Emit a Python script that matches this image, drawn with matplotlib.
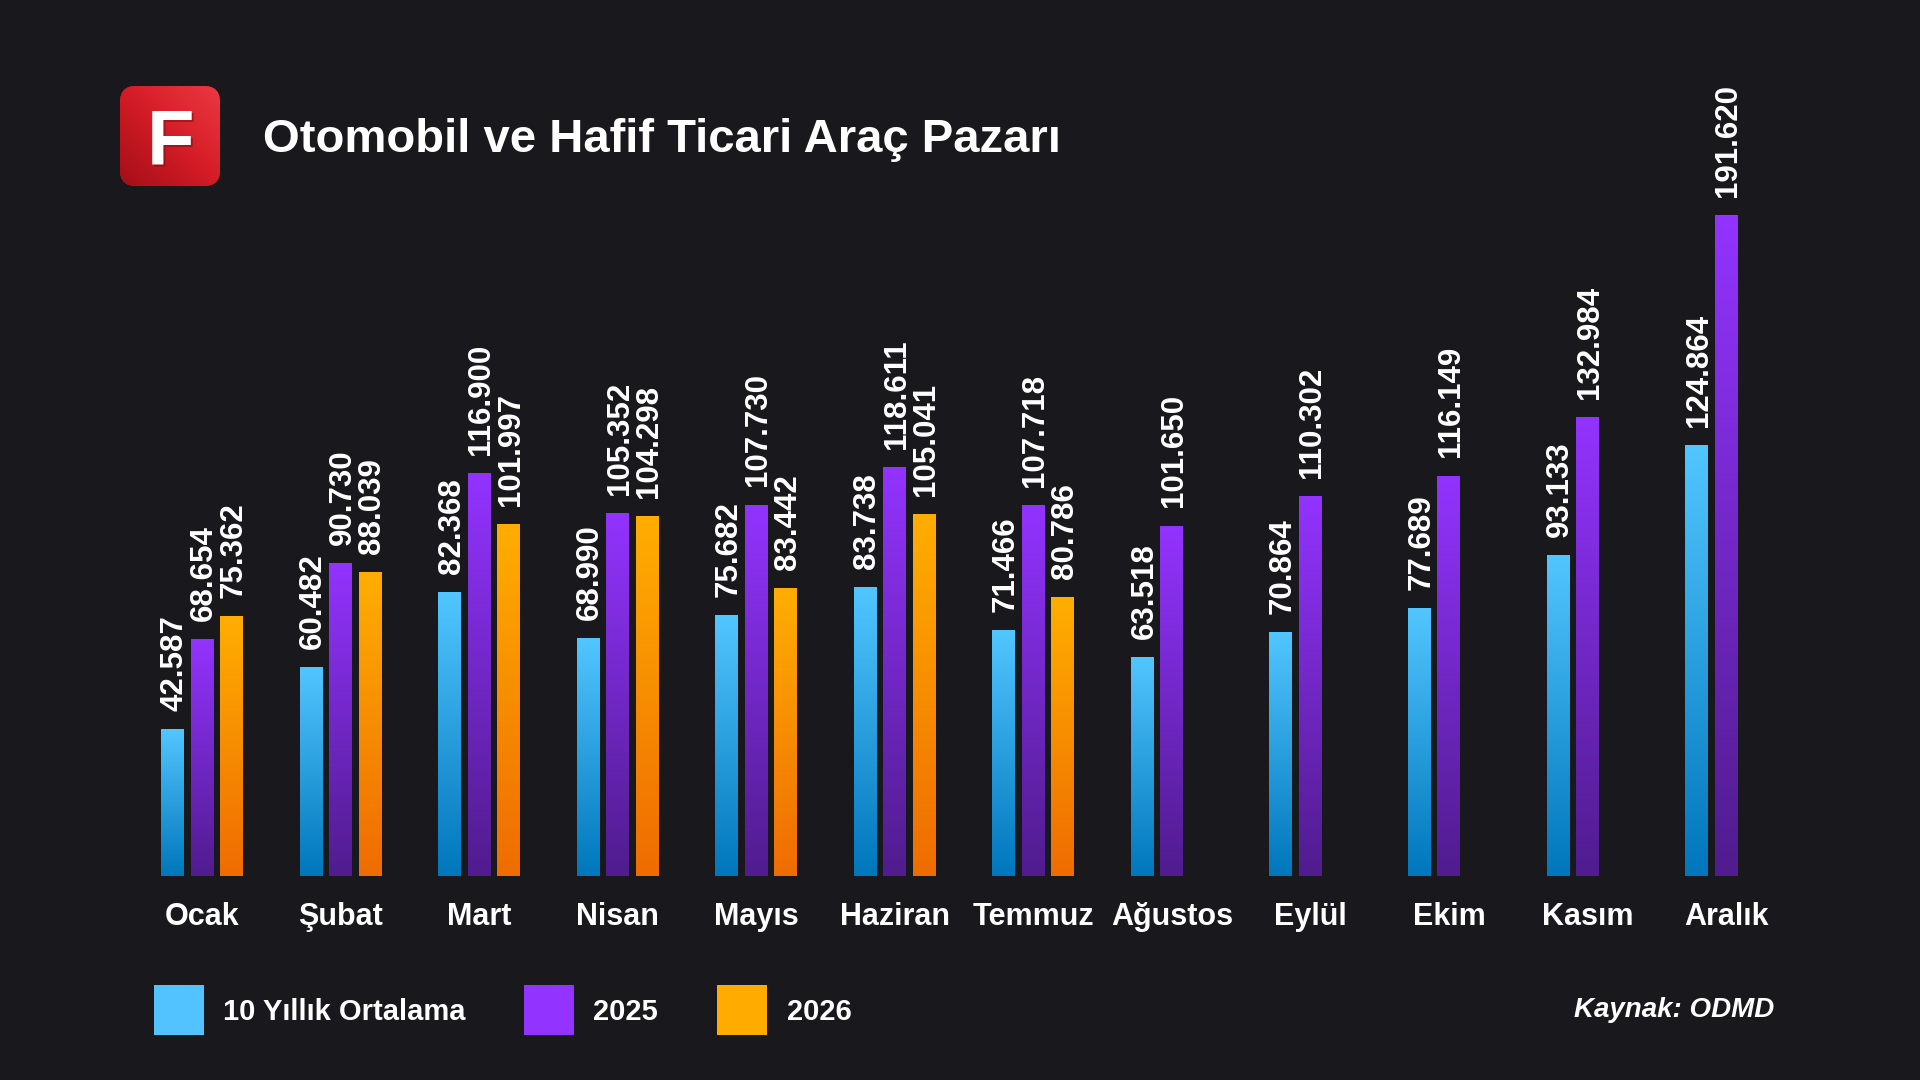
import numpy as np
import matplotlib
matplotlib.use('Agg')
import matplotlib.pyplot as plt
from matplotlib import font_manager
from matplotlib.patches import FancyBboxPatch, Rectangle
from matplotlib.colors import LinearSegmentedColormap

# ---------------- data ----------------
months = ['Ocak', 'Şubat', 'Mart', 'Nisan', 'Mayıs', 'Haziran', 'Temmuz',
          'Ağustos', 'Eylül', 'Ekim', 'Kasım', 'Aralık']
avg10 = [42587, 60482, 82368, 68990, 75682, 83738, 71466, 63518, 70864, 77689, 93133, 124864]
y2025 = [68654, 90730, 116900, 105352, 107730, 118611, 107718, 101650, 110302, 116149, 132984, 191620]
y2026 = [75362, 88039, 101997, 104298, 83442, 105041, 80786, None, None, None, None, None]
series_names = ['10 Yıllık Ortalama', '2025', '2026']
title = 'Otomobil ve Hafif Ticari Araç Pazarı'
source = 'Kaynak: ODMD'

# ---------------- style ----------------
BG = '#18181d'
grads = [('#52c6ff', '#0077bc'), ('#9333ff', '#501c8e'), ('#ffae00', '#ef6c00')]
legend_cols = ['#52c3ff', '#9333ff', '#ffab00']

names = {f.name for f in font_manager.fontManager.ttflist}
FONT = 'Liberation Sans' if 'Liberation Sans' in names else 'DejaVu Sans'
plt.rcParams['font.family'] = [FONT, 'DejaVu Sans']

W, H = 1920, 1080
fig = plt.figure(figsize=(19.2, 10.8), dpi=100, facecolor=BG)

# ---------------- chart axes ----------------
base_px = 876
ax = fig.add_axes([0, (H - base_px) / H, 1, base_px / H])
ax.set_facecolor('none')
gs = 138.55          # group spacing px
x0px = 202           # first group centre px
ppk = 3.448          # px per 1000 units

x = np.arange(len(months))
bw = 23 / gs
off = 29.5 / gs
grad = np.linspace(1, 0, 256).reshape(-1, 1)

for k, (vals, (ct, cb)) in enumerate(zip([avg10, y2025, y2026], grads)):
    v = np.array([np.nan if a is None else a for a in vals], dtype=float)
    cmap = LinearSegmentedColormap.from_list(f'g{k}', [cb, ct])
    bars = ax.bar(x + (k - 1) * off, np.nan_to_num(v), width=bw,
                  color='none', edgecolor='none', zorder=1)
    for rect, val in zip(bars, v):
        if np.isnan(val):
            continue
        bx, by = rect.get_x(), rect.get_y()
        w, h = rect.get_width(), rect.get_height()
        im = ax.imshow(grad, cmap=cmap, extent=(bx, bx + w, by, by + h),
                       aspect='auto', origin='upper', vmin=0, vmax=1,
                       zorder=2, interpolation='bilinear')
        im.set_clip_path(rect)
        ax.annotate(f'{int(val):,}'.replace(',', '.'), (bx + w / 2, by + h),
                    xytext=(1.5, 13), textcoords='offset points', rotation=90,
                    ha='center', va='bottom', color='white', fontsize=22.5,
                    fontweight='bold', zorder=3)

ax.set_xlim(-x0px / gs, (W - x0px) / gs)
ax.set_ylim(0, base_px / ppk * 1000)
ax.axis('off')

for i, m in enumerate(months):
    ax.text(i, (base_px - 925) / base_px, m, transform=ax.get_xaxis_transform(),
            ha='center', va='baseline', color='white', fontsize=22,
            fontweight='bold')

# ---------------- overlay (header, legend, source) ----------------
ov = fig.add_axes([0, 0, 1, 1])
ov.set_facecolor('none')
ov.set_xlim(0, W)
ov.set_ylim(H, 0)
ov.axis('off')

# logo
logo = FancyBboxPatch((120, 86), 100, 100, boxstyle='round,pad=0,rounding_size=16',
                      facecolor='#d81e28', edgecolor='none')
ov.add_patch(logo)
xx, yy = np.meshgrid(np.linspace(0, 1, 128), np.linspace(0, 1, 128))
t = (xx + (1 - yy)) / 2
lcmap = LinearSegmentedColormap.from_list('logo', ['#a30f18', '#d41c26', '#ec3842'])
lim = ov.imshow(t, cmap=lcmap, extent=(120, 220, 186, 86), origin='upper',
                aspect='auto', interpolation='bilinear', zorder=2)
lim.set_clip_path(logo)
ov.text(172, 166, 'F', ha='center', va='baseline', color='#7a0a10', alpha=0.5,
        fontsize=56, fontweight='bold', zorder=3)
ov.text(170, 164, 'F', ha='center', va='baseline', color='white',
        fontsize=56, fontweight='bold', zorder=4)
ov.set_xlim(0, W)
ov.set_ylim(H, 0)

ov.text(263, 152, title, ha='left', va='baseline', color='white',
        fontsize=34, fontweight='bold')

# legend
sq_x = [154, 524, 717]
tx_x = [223, 593, 787]
for sx, tx, col, name in zip(sq_x, tx_x, legend_cols, series_names):
    ov.add_patch(Rectangle((sx, 985), 50, 50, facecolor=col, edgecolor='none'))
    ov.text(tx, 1020, name, ha='left', va='baseline', color='white',
            fontsize=21, fontweight='bold')

ov.text(1774, 1017, source, ha='right', va='baseline', color='white',
        fontsize=20, fontweight='bold', style='italic')

fig.savefig('out.png', dpi=100, facecolor=BG)
